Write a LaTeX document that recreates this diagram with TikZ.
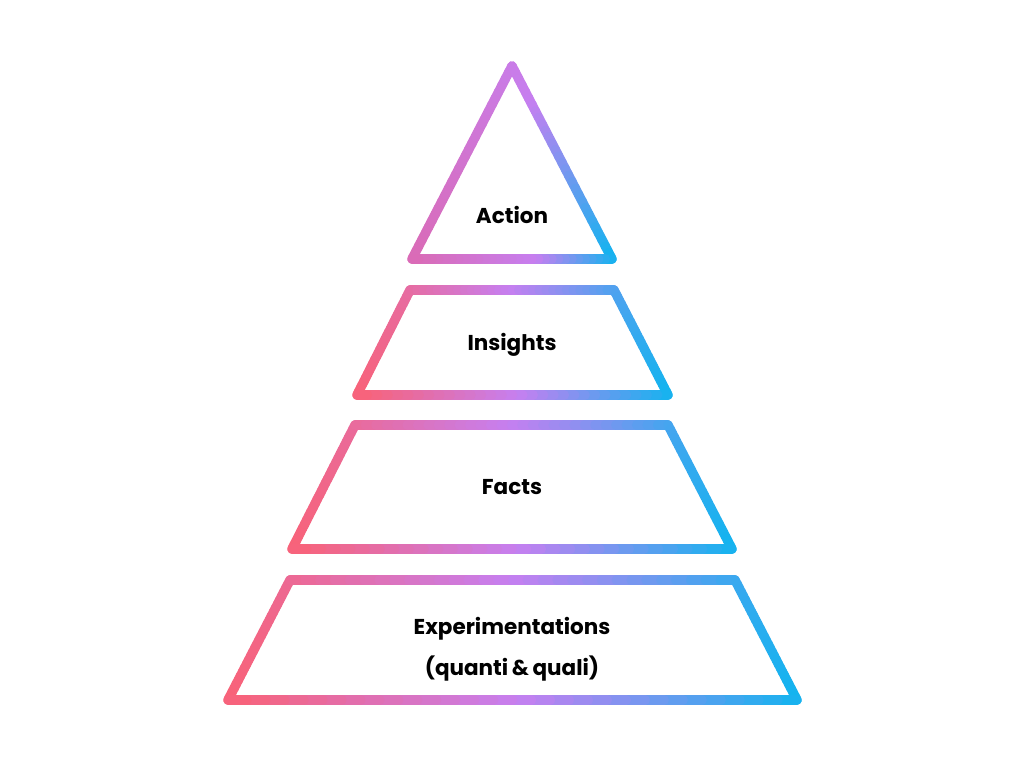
\documentclass[tikz,border=0pt]{standalone}
\usepackage{fontspec}
\setmainfont{Poppins}
\definecolor{gleft}{HTML}{F86278}
\definecolor{gmid}{HTML}{C67FF0}
\definecolor{gright}{HTML}{12B4EF}
\definecolor{tleft}{HTML}{DA6BB6}
\tikzset{
  gline/.style={line width=9.5pt, line cap=round},
  lbl/.style={font=\bfseries\fontsize{21.5}{25}\selectfont, text=black, inner sep=0pt}
}
\def\gm{0.5}
\newcommand\gedge[5]{%
  \foreach \i in {0,...,29}{%
    \pgfmathsetmacro\gxa{#2+(#4-#2)/30*\i}%
    \pgfmathsetmacro\gya{#3+(#5-#3)/30*\i}%
    \pgfmathsetmacro\gxb{#2+(#4-#2)/30*(\i+1)}%
    \pgfmathsetmacro\gyb{#3+(#5-#3)/30*(\i+1)}%
    \pgfmathsetmacro\gu{((\gxa+\gxb)/2-\gxmin)/(\gxmax-\gxmin)}%
    \ifdim\gu pt<\gm pt
      \pgfmathtruncatemacro\gpc{100*\gu/\gm}%
      \colorlet{segc}{gmid!\gpc!#1}%
    \else
      \pgfmathtruncatemacro\gpc{100*(\gu-\gm)/(1-\gm)}%
      \colorlet{segc}{gright!\gpc!gmid}%
    \fi
    \draw[gline,segc] (\gxa,\gya) -- (\gxb,\gyb);
  }%
}
\begin{document}
\begin{tikzpicture}[x=1pt,y=-1pt]
\useasboundingbox[fill=white] (0,0) rectangle (1024,768);
% Action (triangle)
\def\gxmin{412}\def\gxmax{612}\def\gm{0.6}
\gedge{tleft}{412}{259}{512}{66}
\gedge{tleft}{512}{66}{612}{259}
\gedge{tleft}{612}{259}{412}{259}
\def\gm{0.5}
% Insights
\def\gxmin{357}\def\gxmax{668}
\gedge{gleft}{357}{395}{410}{290}
\gedge{gleft}{410}{290}{614}{290}
\gedge{gleft}{614}{290}{668}{395}
\gedge{gleft}{668}{395}{357}{395}
% Facts
\def\gxmin{292}\def\gxmax{732}
\gedge{gleft}{292}{549}{355}{425}
\gedge{gleft}{355}{425}{668}{425}
\gedge{gleft}{668}{425}{732}{549}
\gedge{gleft}{732}{549}{292}{549}
% Experimentations
\def\gxmin{228}\def\gxmax{797}
\gedge{gleft}{228}{700}{290}{580}
\gedge{gleft}{290}{580}{735}{580}
\gedge{gleft}{735}{580}{797}{700}
\gedge{gleft}{797}{700}{228}{700}
% labels
\node[lbl] (action) at (512,215) {Action};
\node[lbl] (insights) at (512,345) {Insights};
\node[lbl] (facts) at (512,487) {Facts};
\node[lbl] (exp) at (512,629) {Experimentations};
\node[lbl] (quali) at (512,669) {(quanti\,\&\,quali)};
\end{tikzpicture}
\end{document}
